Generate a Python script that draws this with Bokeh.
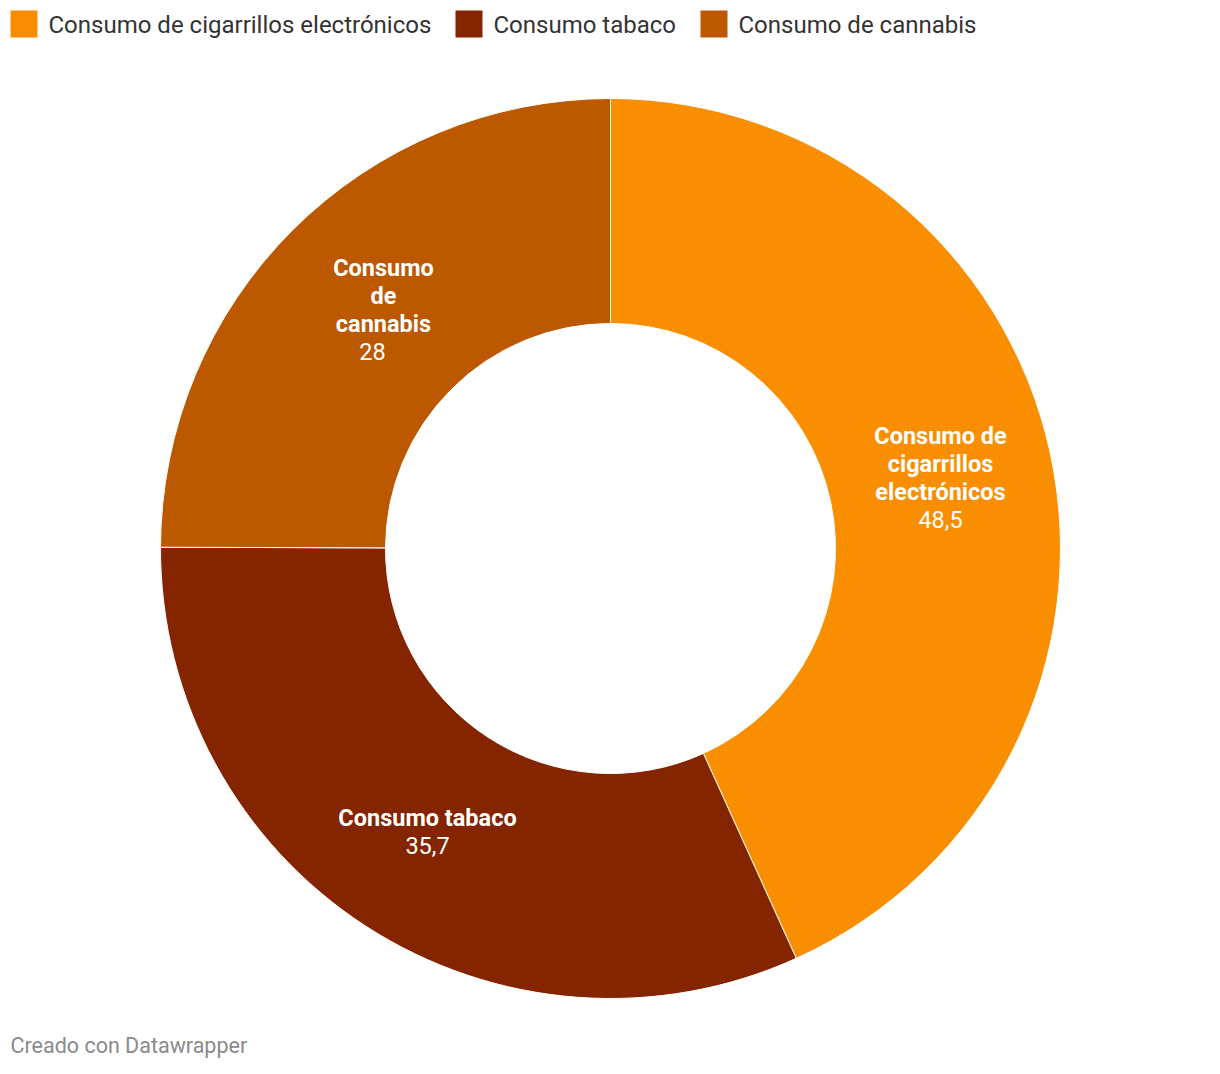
import math
from bokeh.plotting import figure
from bokeh.models import Range1d, ColumnDataSource
from bokeh.core.properties import value
from bokeh.embed import file_html
from bokeh.resources import INLINE

categories = ["Consumo de cigarrillos electrónicos", "Consumo tabaco", "Consumo de cannabis"]
values = [48.5, 35.7, 28.0]
value_labels = ["48,5", "35,7", "28"]
colors = ["#f98e00", "#842500", "#bb5800"]
wrapped_names = [["Consumo de", "cigarrillos", "electrónicos"], ["Consumo tabaco"], ["Consumo", "de", "cannabis"]]

W, H = 1204, 1058
p = figure(width=W, height=H, output_backend="svg", toolbar_location=None,
           x_range=Range1d(0, W), y_range=Range1d(1074 - H, 1074),
           min_border=0, outline_line_color=None)
p.axis.visible = False
p.grid.visible = False
p.background_fill_color = "white"
p.border_fill_color = "white"

def Y(ypage):
    return 1074 - ypage

cx, cy = 610, Y(548)
r_out, r_in = 450, 225

total = sum(values)
starts, ends = [], []
acc = 0.0
for v in values:
    starts.append(math.pi / 2 - 2 * math.pi * acc / total)
    acc += v
    ends.append(math.pi / 2 - 2 * math.pi * acc / total)

src = ColumnDataSource(dict(x=[cx] * 3, y=[cy] * 3, s=starts, e=ends, c=colors))
p.annular_wedge(x="x", y="y", inner_radius=r_in, outer_radius=r_out,
                start_angle="s", end_angle="e", direction="clock",
                fill_color="c", line_color="white", line_width=1, source=src)

# slice labels
label_pos = [(940, 435, None), (427, 817, None), (383, 267, 372)]
font = value("Roboto")
for i, (lx, ly, vx) in enumerate(label_pos):
    lines = wrapped_names[i]
    for j, ln in enumerate(lines):
        p.text(x=[lx], y=[Y(ly + 28 * j)], text=[ln], text_font=font,
               text_font_size="23.5px", text_font_style="bold", text_color="white",
               text_align="center", text_baseline="middle")
    p.text(x=[vx if vx else lx], y=[Y(ly + 28 * len(lines))], text=[value_labels[i]],
           text_font=font, text_font_size="23.5px", text_color="white",
           text_align="center", text_baseline="middle")

# legend
leg_x = [10, 455, 700]
for i, cat in enumerate(categories):
    p.rect(x=[leg_x[i] + 13.5], y=[Y(23.5)], width=27, height=27,
           fill_color=colors[i], line_color=None)
    p.text(x=[leg_x[i] + 38], y=[Y(24)], text=[cat], text_font=font,
           text_font_size="24px", text_color="#333333",
           text_align="left", text_baseline="middle")

# footer
p.text(x=[10], y=[Y(1045)], text=["Creado con Datawrapper"], text_font=font,
       text_font_size="21.5px", text_color="#8a8a8a",
       text_align="left", text_baseline="middle")

open("out.html", "w").write(file_html(p, INLINE))
